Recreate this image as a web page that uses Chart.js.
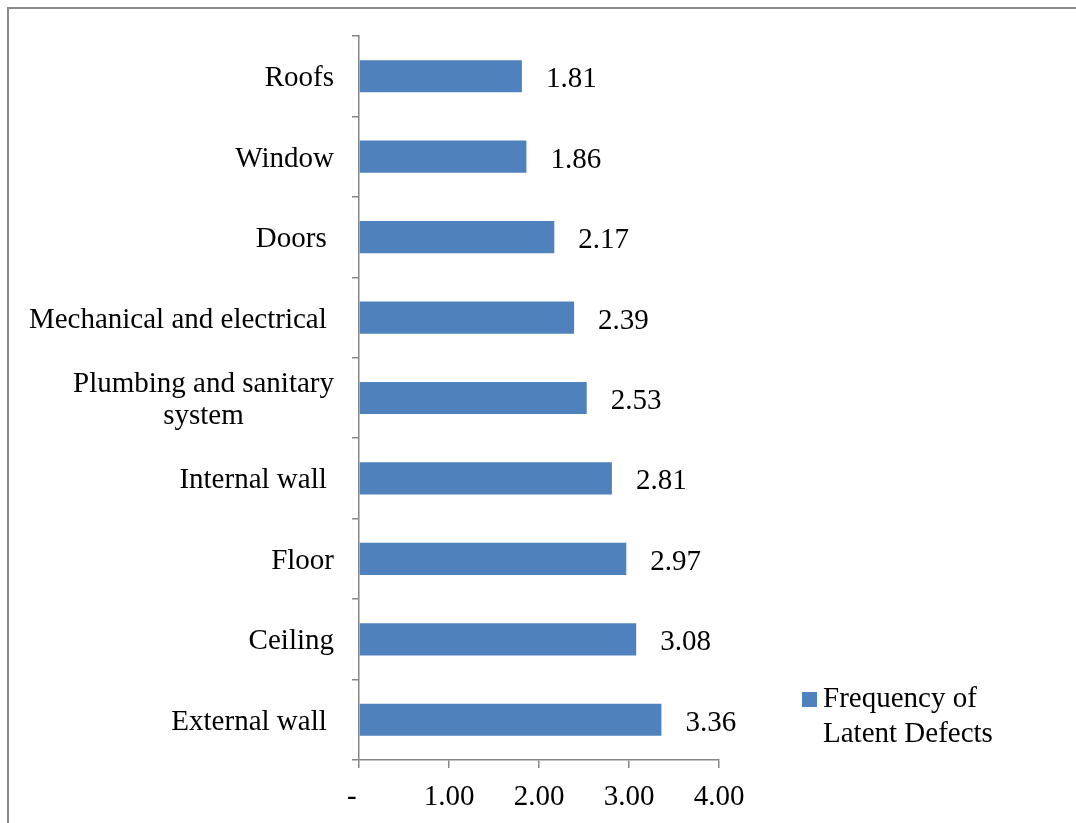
<!DOCTYPE html>
<html>
<head>
<meta charset="utf-8">
<script src="https://cdn.jsdelivr.net/npm/chart.js@4.4.0/dist/chart.umd.min.js"></script>
<style>
  body { margin: 0; background: #fff; }
  #frame {
    position: absolute; left: 7px; top: 7px; width: 1100px; height: 900px;
    border-left: 2px solid #8a8a8a; border-top: 2px solid #8a8a8a;
  }
  #defectChart { position: absolute; left: 0; top: 0; }
</style>
</head>
<body>
<div id="frame"></div>
<canvas id="defectChart" width="1076" height="823"></canvas>
<script>
const categories = [
  ["Roofs"],
  ["Window"],
  ["Doors "],
  ["Mechanical and electrical "],
  ["Plumbing and sanitary", "system"],
  ["Internal wall "],
  ["Floor"],
  ["Ceiling"],
  ["External wall "]
];
const frequency = [1.81, 1.86, 2.17, 2.39, 2.53, 2.81, 2.97, 3.08, 3.36];
const xTickLabels = ["-", "1.00", "2.00", "3.00", "4.00"];
const legendLines = ["Frequency of", "Latent Defects"];

const FONT = '29px "Liberation Serif", "Times New Roman", serif';
const AXIS_GREY = '#868686';
const BAR_BLUE = '#4f81bd';

// category names, value labels and the legend are painted by hand
const textPlugin = {
  id: 'textPlugin',
  afterDraw(chart) {
    const ctx = chart.ctx;
    const yScale = chart.scales.y;
    ctx.save();
    ctx.font = FONT;
    ctx.fillStyle = '#000';
    ctx.textBaseline = 'alphabetic';

    // category labels: block right-aligned, lines centred inside it
    const rightEdge = yScale.right - 25;
    const lineH = 32;
    categories.forEach((lines, i) => {
      const cy = yScale.getPixelForValue(i);
      const maxW = Math.max(...lines.map(l => ctx.measureText(l).width));
      const cx = rightEdge - maxW / 2;
      ctx.textAlign = 'center';
      lines.forEach((l, j) => {
        const y = cy + 10 - (lines.length - 1) * lineH / 2 + j * lineH;
        ctx.fillText(l, cx, y);
      });
    });

    // value labels at the end of each bar
    const meta = chart.getDatasetMeta(0);
    ctx.textAlign = 'left';
    meta.data.forEach((bar, i) => {
      ctx.fillText(frequency[i].toFixed(2), bar.x + 24, bar.y + 11);
    });

    // legend
    const ds = chart.data.datasets[0];
    ctx.fillStyle = ds.backgroundColor;
    ctx.fillRect(802, 692, 15, 15);
    ctx.fillStyle = '#000';
    legendLines.forEach((l, j) => {
      ctx.fillText(l, 823, 707 + j * 35);
    });
    ctx.restore();
  }
};

const ctx = document.getElementById("defectChart").getContext("2d");

const chart = new Chart(ctx, {
  type: 'bar',
  data: {
    labels: categories,
    datasets: [{
      label: legendLines.join(' '),
      data: frequency,
      backgroundColor: BAR_BLUE,
      borderWidth: 0,
      barPercentage: 0.4,
      categoryPercentage: 1.0
    }]
  },
  options: {
    indexAxis: 'y',
    responsive: false,
    animation: false,
    events: [],
    layout: { padding: { top: 36, right: 357, left: 0, bottom: 0 } },
    plugins: {
      legend: { display: false },
      tooltip: { enabled: false }
    },
    scales: {
      x: {
        min: 0,
        max: 4,
        afterFit(scale) { scale.height = 63; },
        ticks: {
          stepSize: 1,
          padding: 12,
          color: '#000',
          font: { family: '"Liberation Serif", "Times New Roman", serif', size: 29 },
          maxRotation: 0,
          callback: (v, i) => i === 0 ? xTickLabels[0] + '  ' : xTickLabels[i]
        },
        grid: {
          drawOnChartArea: false,
          drawTicks: true,
          tickLength: 8,
          color: AXIS_GREY,
          lineWidth: 1.5
        },
        border: { color: AXIS_GREY, width: 1.5 }
      },
      y: {
        type: 'category',
        offset: true,
        afterFit(scale) { scale.width = 359; },
        ticks: { display: false },
        grid: {
          offset: true,
          drawOnChartArea: false,
          drawTicks: true,
          tickLength: 7,
          color: AXIS_GREY,
          lineWidth: 1.5
        },
        border: { color: AXIS_GREY, width: 1.5 }
      }
    }
  },
  plugins: [textPlugin]
});
</script>
</body>
</html>
